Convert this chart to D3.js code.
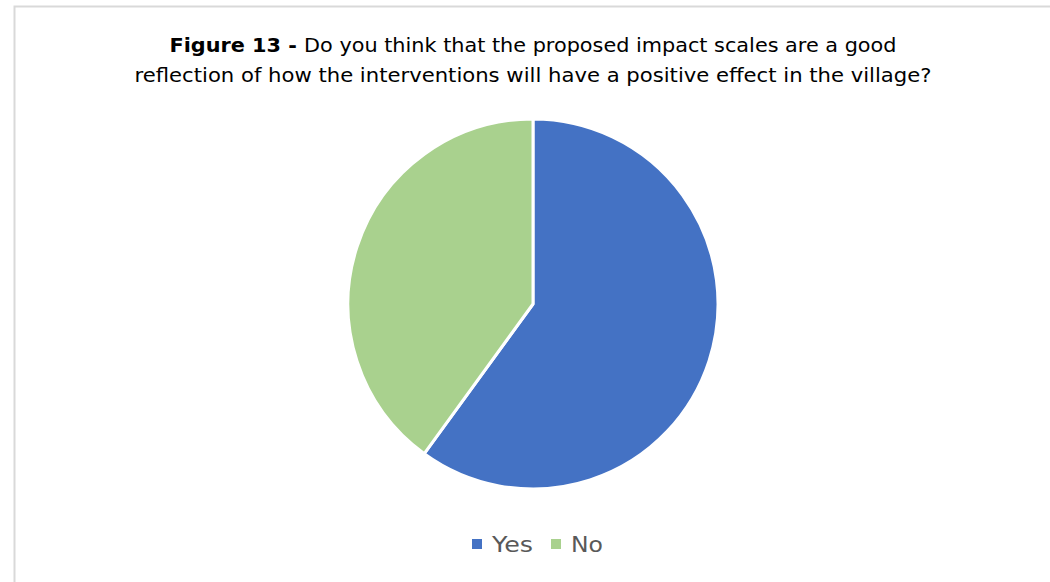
<!DOCTYPE html>
<html><head><meta charset="utf-8">
<script src="https://cdn.jsdelivr.net/npm/d3@7"></script>
<style>body{margin:0;background:#fff}</style>
</head><body>
<svg id="c" width="1050" height="582"></svg>
<script>
const categories = ["Yes", "No"];
const values = [60, 40];
const colors = ["#4472C4", "#A9D18E"];
const titleBold = "Figure 13 - ";
const titleLine1 = "Do you think that the proposed impact scales are a good";
const titleLine2 = "reflection of how the interventions will have a positive effect in the village?";

const svg = d3.select("#c");
const font = "'DejaVu Sans', sans-serif";
// border
svg.append("path").attr("d", "M14.5,590 L14.5,6.5 L1060,6.5")
  .attr("fill", "none").attr("stroke", "#d9d9d9").attr("stroke-width", 2);

const t1 = svg.append("text").attr("x", 533).attr("y", 52).attr("text-anchor", "middle")
  .attr("font-family", font).attr("font-size", 20).attr("fill", "#000")
  .attr("textLength", 727).attr("lengthAdjust", "spacingAndGlyphs");
t1.append("tspan").attr("font-weight", "bold").text(titleBold);
t1.append("tspan").text(titleLine1);
svg.append("text").attr("x", 533).attr("y", 82).attr("text-anchor", "middle")
  .attr("font-family", font).attr("font-size", 20).attr("fill", "#000")
  .attr("textLength", 797).attr("lengthAdjust", "spacingAndGlyphs").text(titleLine2);

const cx = 533, cy = 304, r = 185;
const pie = d3.pie().sort(null).value(d => d)(values);
const arc = d3.arc().innerRadius(0).outerRadius(r);
const color = d3.scaleOrdinal().domain(categories).range(colors);
svg.append("g").attr("transform", `translate(${cx},${cy})`)
  .selectAll("path").data(pie).join("path")
  .attr("d", arc).attr("fill", (d, i) => color(categories[i]))
  .attr("stroke", "#fff").attr("stroke-width", 3).attr("stroke-linejoin", "round");

// legend
const legend = svg.append("g").attr("font-family", font).attr("font-size", 21).attr("fill", "#595959");
const lx = [472, 551];
const lw = [41, 32];
categories.forEach((c, i) => {
  legend.append("rect").attr("x", lx[i]).attr("y", 539).attr("width", 10).attr("height", 10).attr("fill", color(c));
  legend.append("text").attr("x", lx[i] + 20).attr("y", 552)
    .attr("textLength", lw[i]).attr("lengthAdjust", "spacingAndGlyphs").text(c);
});
</script>
</body></html>
